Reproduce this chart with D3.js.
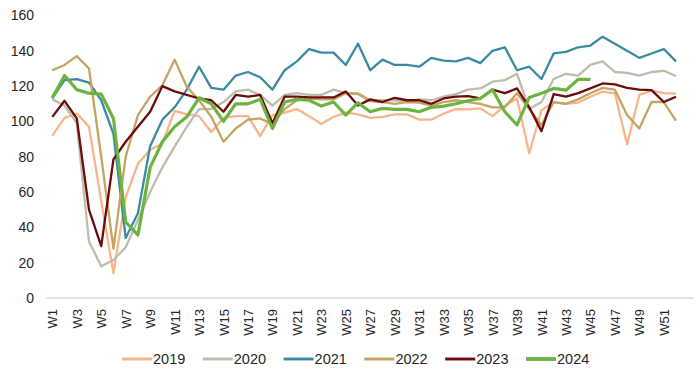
<!DOCTYPE html>
<html>
<head>
<meta charset="utf-8">
<script src="https://cdn.jsdelivr.net/npm/d3@7"></script>
<style>
  body { margin: 0; background: #fff; }
  text { font-family: "Liberation Sans", Arial, sans-serif; fill: #262626; }
</style>
</head>
<body>
<svg id="chart"></svg>
<script>
const weeks = ["W1","W2","W3","W4","W5","W6","W7","W8","W9","W10","W11","W12","W13",
  "W14","W15","W16","W17","W18","W19","W20","W21","W22","W23","W24","W25","W26",
  "W27","W28","W29","W30","W31","W32","W33","W34","W35","W36","W37","W38","W39",
  "W40","W41","W42","W43","W44","W45","W46","W47","W48","W49","W50","W51","W52"];
const yTicks = [0, 20, 40, 60, 80, 100, 120, 140, 160];

const v2019 = [92, 102, 104.5, 97, 55, 14, 57, 76, 84, 87.5, 106, 104, 103, 94, 102, 103,
  103, 91.7, 103.6, 105, 107, 103, 98.5, 102.6, 105, 104, 102, 102.6, 104, 104, 101, 101,
  104.5, 107, 106.8, 107.4, 103, 109, 113, 82, 106.4, 111, 110, 110.6, 114, 116.8, 116, 87,
  115, 117.4, 116, 115.8];
const v2020 = [112.5, 109, 99, 32, 18, 21.5, 28.7, 44, 60, 74, 85.7, 97, 107, 107, 111, 117,
  118, 115, 109, 115, 116, 115, 115, 118, 116, 116, 112, 112, 112, 111.5, 112.5, 112,
  114, 115.5, 118, 118.7, 122.5, 123.4, 127, 107, 111, 124, 127, 126, 132, 134, 128, 127.5,
  126, 128, 128.7, 125.7];
const v2021 = [113, 123.4, 124, 122, 112, 93, 34, 48, 86, 101, 108, 118, 131, 119, 118, 126,
  128, 125, 118, 129, 134, 141, 139, 139, 132, 144, 129, 135, 132, 132, 131, 136,
  134.5, 134, 136, 133, 140, 142, 129, 131, 124, 138.5, 139.4, 142, 143, 148, 144, 140,
  136, 138.5, 141, 134];
const v2022 = [129, 132, 137, 130, 80, 28, 80, 103.6, 114, 120.5, 135, 119.6, 112, 102.6, 88.5, 96,
  101, 101.7, 98.5, 107, 112, 113, 112.5, 112.5, 116, 115.5, 111.5, 111, 110, 111, 110.6, 109,
  111, 112, 111, 110, 108, 108, 116, 107, 98, 111, 110, 112.5, 116, 119, 118, 103.6,
  96, 111, 111, 100.4];
const v2023 = [102.6, 111.7, 101.7, 50, 29.4, 78.5, 88.5, 97, 105.5, 120, 117, 115, 113, 112, 105.5, 115,
  114, 115, 99, 114, 114, 113.6, 113.6, 113.6, 117, 109, 112.5, 111, 113.4, 112, 112, 110,
  113, 114, 114.3, 113, 118, 116, 118.7, 108, 94.5, 115.5, 114, 116, 118.7, 121.5, 121, 119,
  118, 117.7, 111, 114];
const v2024 = [113.4, 126, 118, 116, 115.5, 101.7, 43, 35.7, 74, 88.5, 97, 102.6, 113.4, 110, 100, 110,
  110, 112.5, 96, 111, 112.5, 112, 108.7, 111, 103.6, 110.6, 105.5, 107.4, 106.8, 106.8, 105.5, 108,
  108.7, 110, 111.7, 113, 118, 105.5, 98, 113.6, 116, 118.7, 117.7, 123.8, 123.8];

const seriesNames = ["2019", "2020", "2021", "2022", "2023", "2024"];
const seriesValues = [v2019, v2020, v2021, v2022, v2023, v2024];
const colors = ["#F8B48B", "#BEBCAD", "#3A8BA2", "#C4A460", "#6E0A0A", "#6DB33F"];
const widths = [2.3, 2.3, 2.3, 2.3, 2.3, 3.2];

const W = 700, H = 372;
const svg = d3.select("#chart").attr("width", W).attr("height", H);

const x = d3.scalePoint().domain(weeks).range([52.3, 676]);
const y = d3.scaleLinear().domain([0, 160]).range([298, 15.5]);

// baseline
svg.append("line")
  .attr("x1", 46.5).attr("x2", 694)
  .attr("y1", y(0)).attr("y2", y(0))
  .attr("stroke", "#d9d9d9").attr("stroke-width", 1.5);

// y axis labels
const yAxis = svg.append("g")
  .attr("transform", "translate(34,0)")
  .call(d3.axisLeft(y).tickValues(yTicks).tickSize(0).tickPadding(0));
yAxis.select(".domain").remove();
yAxis.selectAll("text").style("font-size", "14px").attr("fill", "#262626");

// x axis labels, every other week
const xAxis = svg.append("g")
  .attr("transform", `translate(0,${y(0)})`)
  .call(d3.axisBottom(x).tickValues(weeks.filter((d, i) => i % 2 === 0)).tickSize(0));
xAxis.select(".domain").remove();
xAxis.selectAll("text")
  .style("font-size", "13px")
  .attr("fill", "#262626")
  .attr("text-anchor", "end")
  .attr("transform", "rotate(-90)")
  .attr("x", -11)
  .attr("y", 0)
  .attr("dy", "0.35em");

const line = d3.line()
  .x((d, i) => x(weeks[i]))
  .y(d => y(d));

seriesValues.forEach((vals, k) => {
  svg.append("path")
    .datum(vals)
    .attr("fill", "none")
    .attr("stroke", colors[k])
    .attr("stroke-width", widths[k])
    .attr("stroke-linejoin", "round")
    .attr("d", line);
});

// legend
const legend = svg.append("g").attr("transform", "translate(122,359)");
seriesNames.forEach((name, k) => {
  const g = legend.append("g").attr("transform", `translate(${k * 80.8},0)`);
  g.append("line")
    .attr("x1", 0).attr("x2", 30)
    .attr("y1", 0).attr("y2", 0)
    .attr("stroke", colors[k])
    .attr("stroke-width", widths[k] + 0.6);
  g.append("text")
    .attr("x", 31).attr("y", 0).attr("dy", "0.36em")
    .style("font-size", "14.5px")
    .text(name);
});
</script>
</body>
</html>
